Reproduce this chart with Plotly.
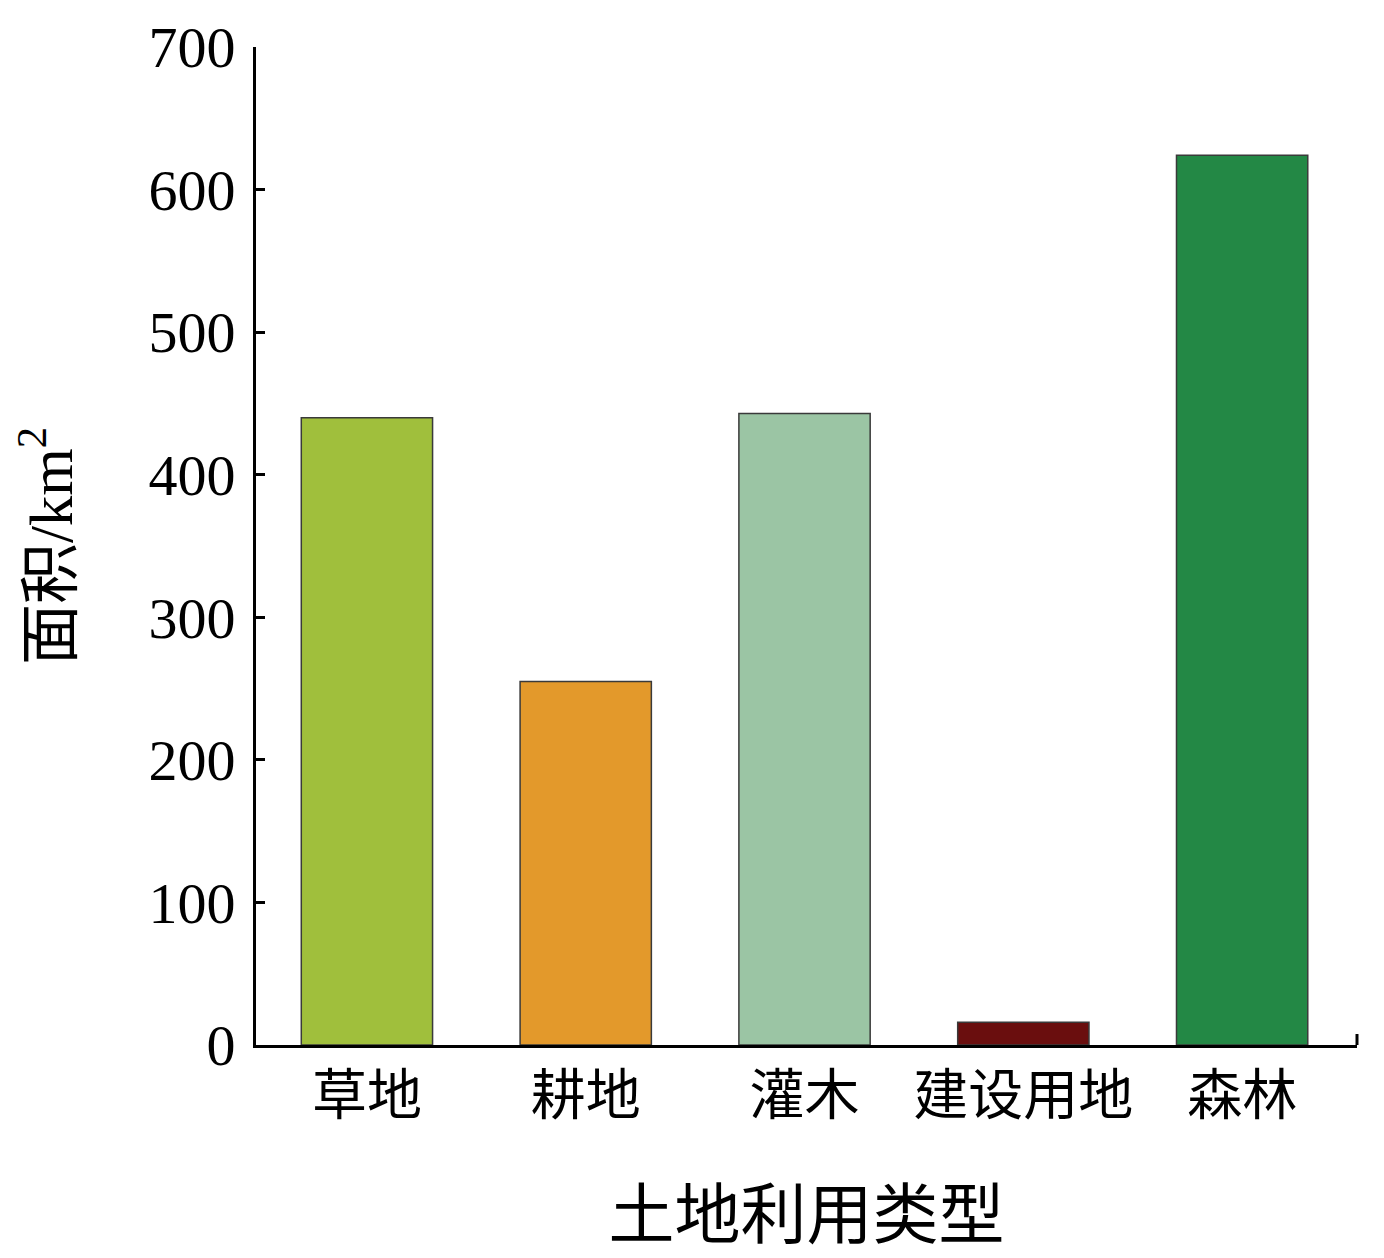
import plotly.graph_objects as go

categories = ["草地", "耕地", "灌木", "建设用地", "森林"]
areas = [440, 255, 443, 16, 624]
colors = ["#a0bf3c", "#e3992b", "#9bc5a4", "#6a0e0e", "#238845"]
y_ticks = [0, 100, 200, 300, 400, 500, 600, 700]

fig = go.Figure()
fig.add_trace(go.Bar(
    x=list(range(len(categories))),
    y=areas,
    width=0.6,
    marker=dict(color=colors, line=dict(color="#3a3a3a", width=1.5)),
    showlegend=False,
))

fig.update_layout(
    width=1384, height=1258,
    margin=dict(l=248, r=35, t=39, b=221, autoexpand=False),
    paper_bgcolor="white", plot_bgcolor="white",
    font=dict(family="Liberation Serif, Noto Sans CJK SC, serif", color="black"),
    xaxis=dict(
        range=[-0.507, 4.525],
        tickmode="array",
        tickvals=list(range(len(categories))),
        ticktext=categories,
        tickfont=dict(size=55, family="Noto Sans CJK SC, serif"),
        showline=True, linecolor="black", linewidth=3,
        ticks="", showgrid=False, zeroline=False,
        title=dict(text="土地利用类型", font=dict(size=66, family="Noto Sans CJK SC, serif"), standoff=63),
    ),
    yaxis=dict(
        range=[0, 700],
        tickmode="array",
        tickvals=y_ticks,
        tickfont=dict(size=58, family="Liberation Serif, serif"),
        ticklabelstandoff=6,
        showline=True, linecolor="black", linewidth=3,
        ticks="inside", ticklen=9, tickwidth=3, tickcolor="black",
        showgrid=False, zeroline=False,
        title=dict(text="面积/km<sup>2</sup>", font=dict(size=61, family="Liberation Serif, Noto Sans CJK SC, serif"), standoff=58),
    ),
    shapes=[dict(type="line", xref="paper", yref="paper", x0=1, x1=1, y0=0, y1=0.011,
                 line=dict(color="black", width=3))],
)

fig.write_html("out.html")
